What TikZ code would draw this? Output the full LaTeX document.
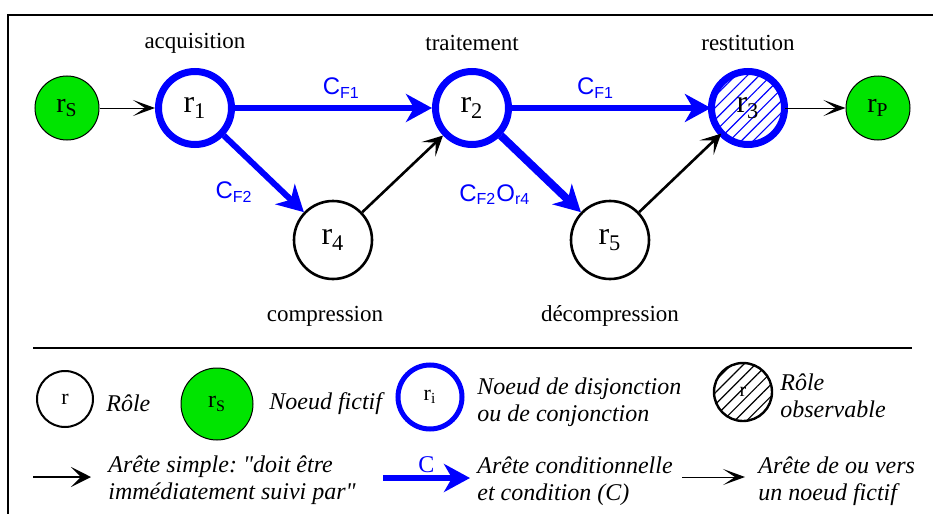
\documentclass[tikz,border=0pt]{standalone}
\usepackage{fontspec}
\setmainfont{Liberation Serif}
\newfontfamily\etiqfont{Liberation Sans}
\usetikzlibrary{arrows.meta,patterns.meta}
\frenchspacing

\tikzset{
	role/.style={circle, draw=black, line width=1.3pt, minimum size=39pt, inner sep=0pt, font=\fontsize{16}{18}\selectfont},
	jonction/.style={role, draw=blue, line width=3.5pt, minimum size=36.5pt},
	fictif/.style={circle, draw=black, line width=0.5pt, fill=fictifvert, minimum size=32pt, inner sep=0pt, font=\fontsize{14}{16}\selectfont},
	observable/.style={pattern={Lines[angle=45,distance=4.2pt,line width=0.6pt]}, pattern color=blue},
	phase/.style={font=\fontsize{11.5}{13}\selectfont},
	cond/.style={text=blue, font=\fontsize{12}{14}\etiqfont},
	legende/.style={font=\fontsize{12}{13.5}\selectfont\itshape, align=left, anchor=west, inner sep=0pt},
	simple/.style={line width=1.3pt, -{Stealth[length=10pt,width=10pt,inset=5pt]}},
	conditionnelle/.style={draw=blue, line width=3pt, -{Stealth[length=13pt,width=14pt,inset=4pt]}},
	versfictif/.style={line width=0.5pt, -{Stealth[length=11pt,width=8pt,inset=6pt]}}
}

\begin{document}
\begin{tikzpicture}[x=0.5pt, y=-0.5pt]
		
		% Define colors
		\definecolor{fictifvert}{RGB}{0, 228, 0}
		
		\useasboundingbox (0,0) rectangle (933,514);
		
		% Frame
		\draw[line width=1pt] (8,514) -- (8,15) -- (933,15);
		
		% Roles
		\node[fictif] (rs) at (67,108) {r\textsubscript{S}};
		\node[jonction] (r1) at (195,108) {r\textsubscript{1}};
		\node[jonction] (r2) at (472,108) {r\textsubscript{2}};
		\node[jonction, observable] (r3) at (748,108) {r\textsubscript{3}};
		\node[fictif] (rp) at (878,108) {r\textsubscript{P}};
		\node[role] (r4) at (333,240) {r\textsubscript{4}};
		\node[role] (r5) at (610,240) {r\textsubscript{5}};
		
		% Phases
		\node[phase] (acq) at (195,43) {acquisition};
		\node[phase] (trt) at (472,43) {traitement};
		\node[phase] (rst) at (748,43) {restitution};
		\node[phase] (cmp) at (325,316) {compression};
		\node[phase] (dcp) at (610,316) {décompression};
		
		% Edges
		\draw[versfictif] (rs) -- (r1);
		\draw[conditionnelle] (r1) -- node[cond, above, pos=0.54] {C\textsubscript{F1}} (r2);
		\draw[conditionnelle] (r1) -- node[cond, below left, pos=0.48] {C\textsubscript{F2}} (r4);
		\draw[simple] (r4) -- (r2);
		\draw[conditionnelle] (r2) -- node[cond, above, pos=0.42] {C\textsubscript{F1}} (r3);
		\draw[conditionnelle, line width=4pt] (r2) -- node[cond, below left, pos=0.5] {C\textsubscript{F2}O\textsubscript{r4}} (r5);
		\draw[simple] (r5) -- (r3);
		\draw[versfictif] (r3) -- (rp);
		
		% Legend
		\draw[line width=0.6pt] (33,348) -- (912,348);
		
		\node[role, line width=1pt, minimum size=28pt, font=\fontsize{11}{13}\selectfont] (lrole) at (65,399) {r};
		\node[legende] (lroletxt) at (106,403) {Rôle};
		\node[fictif, minimum size=36pt, font=\fontsize{12}{14}\selectfont] (lfictif) at (217,404) {r\textsubscript{S}};
		\node[legende] (lfictiftxt) at (269,404) {Noeud fictif};
		\node[jonction, line width=2.5pt, minimum size=32pt, font=\fontsize{11}{13}\selectfont] (ljonction) at (430,397) {r\textsubscript{i}};
		\node[legende] (ljonctiontxt) at (477,402) {Noeud de disjonction\\ou de conjonction};
		\node[role, observable, pattern color=black, line width=1.2pt, minimum size=29pt, font=\fontsize{10}{12}\selectfont] (lobs) at (743,392) {r};
		\node[legende] (lobstxt) at (780,396) {Rôle\\observable};
		
		\coordinate (s0) at (33,477);
		\coordinate (s1) at (91,477);
		\draw[simple] (s0) -- (s1);
		\node[legende] (lsimpletxt) at (108,480) {Arête simple: \textquotedbl doit être\\immédiatement suivi par\textquotedbl};
		\coordinate (c0) at (383,478);
		\coordinate (c1) at (470,478);
		\draw[conditionnelle] (c0) -- node[above=-2pt, text=blue, font=\fontsize{12}{14}\selectfont] {C} (c1);
		\node[legende] (lcondtxt) at (477,481) {Arête conditionnelle\\et condition (\textit{C})};
		\coordinate (f0) at (682,477);
		\coordinate (f1) at (745,477);
		\draw[versfictif] (f0) -- (f1);
		\node[legende] (lfictiftxt2) at (758,481) {Arête de ou vers\\un noeud fictif};
		
	\end{tikzpicture}
\end{document}
